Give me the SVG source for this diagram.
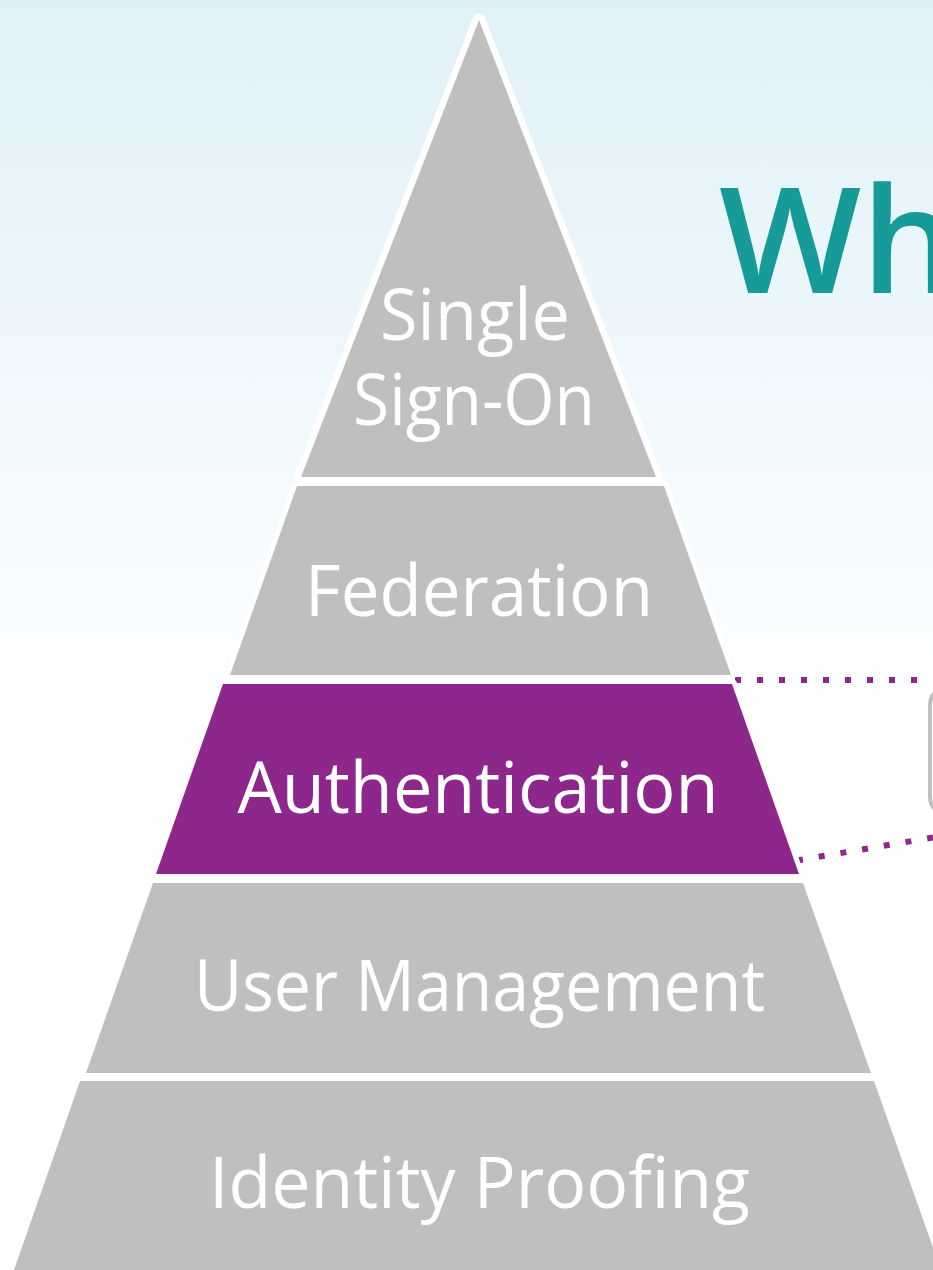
<svg xmlns="http://www.w3.org/2000/svg" width="933" height="1270" viewBox="0 0 933 1270">
<defs>
<linearGradient id="bg" x1="0" y1="0" x2="0" y2="1">
<stop offset="0" stop-color="#dff1f8"/>
<stop offset="1" stop-color="#fdfeff"/>
</linearGradient>
</defs>
<style>
.band{fill:#bfbfbf;stroke:#ffffff;stroke-width:10;stroke-linejoin:round;paint-order:stroke}
.hl{fill:#8e278b}
.lbl{font-family:"Open Sans","Noto Sans",sans-serif;font-size:72px;fill:#ffffff;text-anchor:middle}
.dot{fill:none;stroke:#8e278b;stroke-width:6;stroke-dasharray:6 16}
</style>
<rect x="0" y="0" width="933" height="698" fill="url(#bg)"/>
<rect x="0" y="698" width="933" height="572" fill="#ffffff"/>
<text x="719" y="293" font-family="'Open Sans','Noto Sans',sans-serif" font-size="146" font-weight="600" fill="#169b98" textLength="238" lengthAdjust="spacingAndGlyphs">Wh</text>
<rect id="callout" x="930" y="687" width="80" height="128" rx="18" fill="#ffffff" stroke="#bfbfbf" stroke-width="4"/>
<g id="connectors">
<line class="dot" x1="735" y1="680" x2="933" y2="680"/>
<line class="dot" x1="797" y1="860.5" x2="933" y2="837.5"/>
</g>
<g id="sso">
<polygon class="band" points="479,20 656,477 301,477" style="stroke-width:13"/>
<text class="lbl" x="475" y="340" textLength="190" lengthAdjust="spacingAndGlyphs">Single</text>
<text class="lbl" x="474" y="425" textLength="242" lengthAdjust="spacingAndGlyphs">Sign-On</text>
</g>
<g id="federation">
<polygon class="band" points="297,486 664,486 731,675 230,675"/>
<text class="lbl" x="479" y="616" textLength="348" lengthAdjust="spacingAndGlyphs">Federation</text>
</g>
<g id="authentication">
<polygon class="band hl" points="223,684 732,684 799,874 156,874"/>
<text class="lbl" x="478" y="813" textLength="481" lengthAdjust="spacingAndGlyphs">Authentication</text>
</g>
<g id="user-management">
<polygon class="band" points="153,883 803,883 871,1073 86,1073"/>
<text class="lbl" x="479.5" y="1011" textLength="571" lengthAdjust="spacingAndGlyphs">User Management</text>
</g>
<g id="identity-proofing">
<polygon class="band" points="80,1081 874,1081 941,1270 14,1270"/>
<text class="lbl" x="479.5" y="1208" textLength="541" lengthAdjust="spacingAndGlyphs">Identity Proofing</text>
</g>
</svg>
